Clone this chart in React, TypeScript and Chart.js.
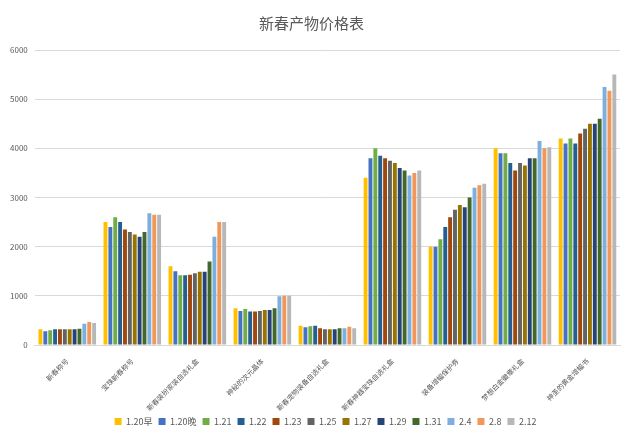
import { useEffect, useRef } from "react";
import { Chart } from "chart.js/auto";

const categories = [
  "新春称号",
  "宝珠新春称号",
  "新春装扮家装自选礼盒",
  "神秘的次元晶体",
  "新春宠物装备自选礼盒",
  "新春神器宝珠自选礼盒",
  "装备增幅保护券",
  "梦想白金徽章礼盒",
  "神圣的黄金增幅书",
];

const seriesNames = ["1.20早", "1.20晚", "1.21", "1.22", "1.23", "1.25", "1.27", "1.29", "1.31", "2.4", "2.8", "2.12"];

const seriesColors = [
  "#FFC000", "#4472C4", "#70AD47", "#255E91", "#9E480E", "#636363",
  "#997300", "#264478", "#43682B", "#7CAFDD", "#F1975A", "#B7B7B7",
];

// one row per category, one value per date
const price1 = [320, 280, 300, 320, 320, 320, 320, 320, 330, 430, 470, 450];
const price2 = [2500, 2400, 2600, 2500, 2350, 2300, 2250, 2200, 2300, 2680, 2650, 2650];
const price3 = [1600, 1500, 1420, 1420, 1430, 1460, 1490, 1490, 1700, 2200, 2500, 2500];
const price4 = [750, 690, 730, 680, 680, 690, 710, 710, 750, 990, 1000, 1000];
const price5 = [390, 360, 380, 390, 340, 320, 320, 320, 340, 340, 370, 340];
const price6 = [3400, 3800, 4000, 3850, 3800, 3750, 3700, 3600, 3550, 3450, 3500, 3550];
const price7 = [2000, 2000, 2150, 2400, 2600, 2750, 2850, 2800, 3000, 3200, 3250, 3280];
const price8 = [4000, 3900, 3900, 3700, 3550, 3700, 3650, 3800, 3800, 4150, 4000, 4020];
const price9 = [4200, 4100, 4200, 4100, 4300, 4400, 4500, 4500, 4600, 5250, 5170, 5500];

const rows = [price1, price2, price3, price4, price5, price6, price7, price8, price9];

const yTicks = [0, 1000, 2000, 3000, 4000, 5000, 6000];

const FONT = "'Noto Sans CJK SC', 'Noto Sans', sans-serif";

// legend sits a bit right of the plot centre in the original
const legendShift = {
  id: "legendShift",
  afterLayout(chart: any) {
    if (!chart.legend) return;
    chart.legend.left += 14;
    chart.legend.right += 14;
  },
};

export default function App() {
  const canvasRef = useRef<HTMLCanvasElement | null>(null);

  useEffect(() => {
    if (!canvasRef.current) return;

    const chart = new Chart(canvasRef.current, {
      type: "bar",
      data: {
        labels: categories,
        datasets: seriesNames.map((name, i) => ({
          label: name,
          data: rows.map((r) => r[i]),
          backgroundColor: seriesColors[i],
          borderWidth: 0,
          barPercentage: 0.8,
          categoryPercentage: 0.9,
        })),
      },
      options: {
        responsive: false,
        animation: false,
        layout: { padding: { left: 3, right: 20, top: 0, bottom: 0 } },
        plugins: {
          title: {
            display: true,
            text: "新春产物价格表",
            color: "#595959",
            font: { family: FONT, size: 15, weight: "normal" },
            padding: { top: 14, bottom: 18 },
          },
          legend: {
            position: "bottom",
            labels: {
              boxWidth: 7,
              boxHeight: 7,
              padding: 6,
              color: "#595959",
              font: { family: FONT, size: 9 },
            },
          },
          tooltip: { enabled: false },
        },
        scales: {
          x: {
            grid: { display: false },
            border: { color: "#D9D9D9" },
            afterFit: (axis) => {
              axis.height = 66;
            },
            ticks: {
              minRotation: 45,
              maxRotation: 45,
              color: "#595959",
              font: { family: FONT, size: 7 },
              padding: 4,
            },
          },
          y: {
            min: 0,
            max: 6000,
            afterBuildTicks: (axis) => {
              axis.ticks = yTicks.map((v) => ({ value: v }));
            },
            grid: { color: "#D9D9D9", drawTicks: false },
            border: { display: false },
            ticks: {
              color: "#595959",
              font: { family: FONT, size: 8 },
              padding: 7,
              callback: (v) => String(v),
            },
          },
        },
      },
      plugins: [legendShift],
    });

    return () => chart.destroy();
  }, []);

  return (
    <div style={{ position: "fixed", left: 0, top: 0, width: 640, height: 436, background: "#fff" }}>
      <canvas ref={canvasRef} width={640} height={436} />
    </div>
  );
}
